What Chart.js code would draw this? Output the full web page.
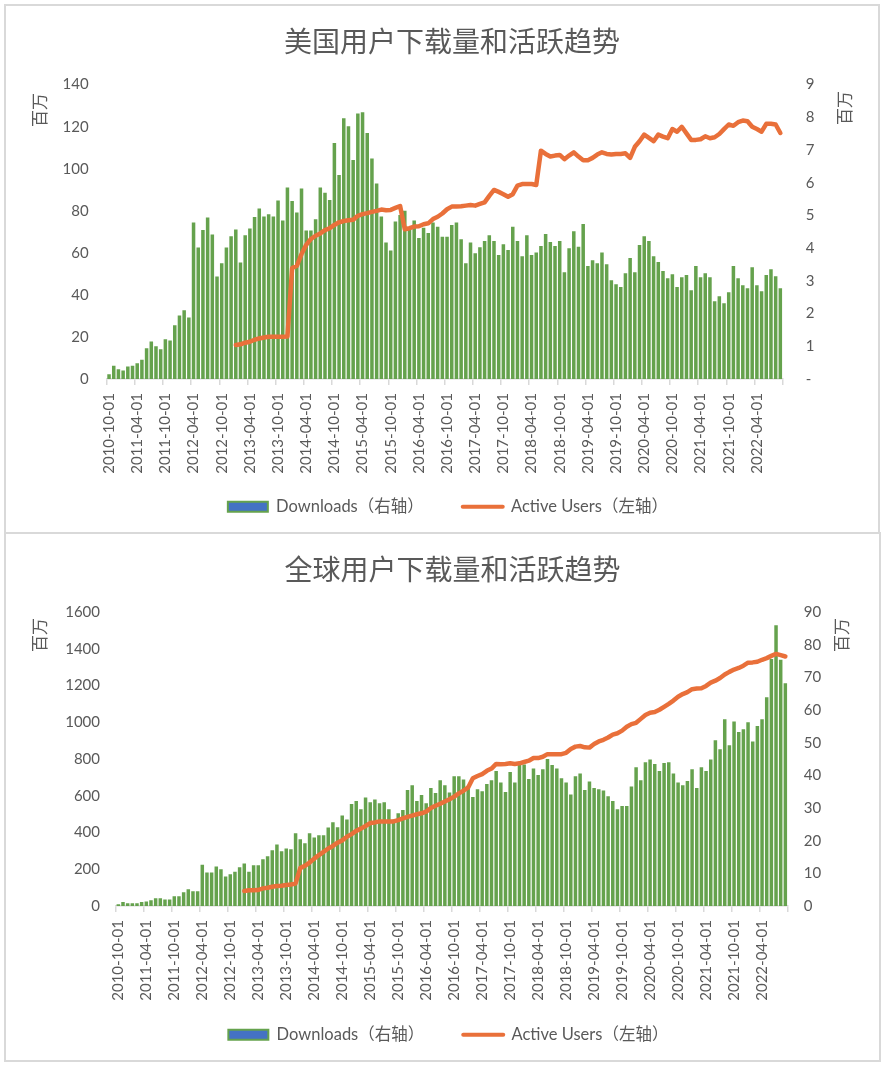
<!DOCTYPE html>
<html>
<head>
<meta charset="utf-8">
<script src="https://cdn.jsdelivr.net/npm/chart.js@4.4.1/dist/chart.umd.min.js"></script>
<style>
  html, body { margin: 0; padding: 0; background: #fff; }
  .box { position: absolute; left: 4px; border: 2px solid #d9d9d9; background: #fff; }
  #box1 { top: 4px; width: 872px; height: 526px; }
  #box2 { top: 532px; width: 873px; height: 526px; }
  canvas { display: block; }
</style>
</head>
<body>
<div class="box" id="box1"><canvas id="usChart" width="872" height="526"></canvas></div>
<div class="box" id="box2"><canvas id="globalChart" width="873" height="526"></canvas></div>
<script>
// monthly categories, 2010-10-01 .. 2022-09-01
function monthLabels(year, month, count) {
  const out = [];
  for (let i = 0; i < count; i++) {
    const m = month - 1 + i;
    const y = year + Math.floor(m / 12);
    const mm = (m % 12) + 1;
    out.push(y + '-' + String(mm).padStart(2, '0') + '-01');
  }
  return out;
}
const months = monthLabels(2010, 10, 144);

// 美国 (millions)
const usDownloads = [
  2.2, 6.3, 4.6, 4.0, 6.0, 6.3, 7.5, 9.2, 14.6, 17.8, 15.6, 14.1,
  18.9, 18.3, 25.6, 30.2, 32.7, 29.2, 74.4, 62.5, 70.8, 76.8, 68.7, 48.7,
  55.1, 62.5, 67.9, 71.1, 55.4, 68.3, 71.6, 77.0, 81.1, 77.3, 78.3, 77.3,
  84.9, 75.4, 91.1, 84.6, 79.2, 90.6, 70.6, 70.6, 76.0, 91.1, 88.6, 85.1,
  112.2, 97.0, 124.0, 120.2, 104.1, 126.3, 126.8, 117.0, 104.9, 93.0, 77.3, 64.9,
  61.1, 74.9, 78.0, 80.0, 71.3, 75.4, 67.0, 71.9, 69.4, 74.4, 72.4, 67.6,
  67.6, 73.2, 74.4, 66.5, 55.1, 64.9, 59.8, 62.7, 65.6, 68.4, 65.6, 59.0,
  64.1, 61.3, 72.4, 65.6, 58.4, 68.4, 59.0, 60.2, 63.3, 68.9, 65.1, 63.2,
  65.6, 50.8, 62.2, 70.3, 62.9, 73.7, 53.7, 56.5, 55.1, 60.2, 54.6, 47.0,
  45.1, 43.7, 50.3, 57.5, 50.8, 63.7, 67.9, 65.6, 58.4, 55.6, 51.3, 47.9,
  49.8, 43.7, 48.4, 49.4, 42.2, 53.7, 48.4, 50.3, 48.4, 37.0, 39.4, 36.0,
  41.3, 53.7, 47.9, 44.6, 43.2, 53.2, 44.6, 41.7, 49.4, 52.2, 48.9, 43.2
];
const usActive = [
  null, null, null, null, null, null, null, null, null, null, null, null,
  null, null, null, null, null, null, null, null, null, null, null, null,
  null, null, null, 1.04, 1.06, 1.11, 1.14, 1.20, 1.24, 1.27, 1.29, 1.29,
  1.29, 1.29, 1.30, 3.39, 3.46, 3.82, 4.10, 4.28, 4.38, 4.45, 4.55, 4.61,
  4.71, 4.79, 4.83, 4.85, 4.87, 4.99, 5.04, 5.07, 5.11, 5.14, 5.18, 5.16,
  5.17, 5.23, 5.29, 4.58, 4.61, 4.66, 4.67, 4.73, 4.76, 4.89, 4.96, 5.06,
  5.19, 5.27, 5.27, 5.28, 5.30, 5.32, 5.30, 5.35, 5.40, 5.60, 5.78, 5.72,
  5.65, 5.57, 5.65, 5.91, 5.96, 5.96, 5.96, 5.93, 6.98, 6.88, 6.80, 6.83,
  6.85, 6.72, 6.83, 6.93, 6.80, 6.69, 6.69, 6.76, 6.86, 6.93, 6.88, 6.86,
  6.88, 6.88, 6.90, 6.76, 7.10, 7.27, 7.47, 7.37, 7.27, 7.47, 7.41, 7.36,
  7.64, 7.56, 7.71, 7.51, 7.31, 7.31, 7.33, 7.42, 7.36, 7.39, 7.49, 7.64,
  7.78, 7.74, 7.85, 7.90, 7.88, 7.71, 7.64, 7.56, 7.80, 7.80, 7.78, 7.52
];

// 全球 (millions)
const globalDownloads = [
  9, 22, 15, 15, 15, 22, 25, 31, 42, 42, 36, 36,
  53, 53, 75, 91, 80, 80, 225, 182, 182, 215, 200, 160,
  173, 187, 211, 231, 187, 222, 222, 255, 271, 304, 335, 298,
  313, 309, 396, 364, 342, 396, 373, 385, 385, 427, 456, 429,
  493, 471, 555, 571, 527, 591, 565, 580, 560, 565, 527, 469,
  505, 522, 631, 658, 571, 604, 560, 642, 615, 685, 658, 618,
  707, 707, 689, 655, 593, 635, 625, 664, 685, 735, 673, 620,
  729, 673, 771, 771, 691, 749, 713, 745, 800, 767, 749, 696,
  673, 607, 707, 722, 631, 678, 642, 635, 629, 598, 571, 527,
  544, 544, 651, 755, 685, 782, 798, 773, 735, 778, 782, 722,
  673, 658, 680, 744, 642, 755, 735, 798, 902, 853, 1016, 875,
  1005, 947, 962, 1000, 896, 980, 1016, 1136, 1345, 1529, 1340, 1213
];
const globalActive = [
  null, null, null, null, null, null, null, null, null, null, null, null,
  null, null, null, null, null, null, null, null, null, null, null, null,
  null, null, null, 4.6, 4.8, 4.8, 4.9, 5.4, 5.6, 5.9, 6.1, 6.2,
  6.4, 6.6, 6.9, 11.6, 12.3, 13.3, 14.5, 15.6, 16.6, 17.6, 18.4, 19.4,
  20.1, 21.2, 22.0, 23.0, 23.7, 24.5, 25.4, 25.6, 25.9, 25.9, 25.9, 25.9,
  26.3, 26.8, 27.3, 27.7, 28.1, 28.4, 28.9, 30.0, 30.7, 31.3, 32.0, 32.7,
  33.5, 34.5, 35.3, 36.3, 39.1, 39.8, 40.4, 41.4, 42.1, 43.5, 43.4, 43.5,
  43.7, 43.5, 43.7, 44.1, 44.5, 45.3, 45.3, 45.7, 46.5, 46.5, 46.5, 46.5,
  46.9, 48.1, 48.8, 49.0, 48.6, 48.5, 49.6, 50.4, 50.9, 51.6, 52.5, 52.9,
  53.7, 54.9, 55.7, 56.1, 57.3, 58.5, 59.2, 59.4, 60.1, 61.0, 61.9, 62.9,
  64.1, 64.9, 65.5, 66.4, 66.6, 66.7, 67.4, 68.4, 69.0, 69.8, 70.9, 71.7,
  72.4, 72.9, 73.6, 74.5, 74.6, 74.8, 75.4, 75.9, 76.6, 77.2, 76.8, 76.4
];

// axis tick values
const usLeftTicks = [0, 20, 40, 60, 80, 100, 120, 140];
const usRightTicks = [0, 1, 2, 3, 4, 5, 6, 7, 8, 9];
const globalLeftTicks = [0, 200, 400, 600, 800, 1000, 1200, 1400, 1600];
const globalRightTicks = [0, 10, 20, 30, 40, 50, 60, 70, 80, 90];

const GREEN = '#65a24d';
const ORANGE = '#e9703a';
const BLUE = '#4472c4';
const TEXT = '#595959';
const AXIS = '#d9d9d9';
const FONT = 'Lato, "Noto Sans CJK SC", sans-serif';
const CJK = '"Noto Sans CJK SC", sans-serif';

// axis unit labels (百万) rotated on both sides
const unitTitles = {
  id: 'unitTitles',
  afterDraw(chart, args, opts) {
    const ctx = chart.ctx;
    ctx.save();
    ctx.fillStyle = TEXT;
    ctx.font = '17px ' + CJK;
    ctx.textAlign = 'right';
    ctx.textBaseline = 'middle';
    opts.spots.forEach(([x, top]) => {
      ctx.save();
      ctx.translate(x, top);
      ctx.rotate(-Math.PI / 2);
      ctx.fillText(opts.text, 0, 0);
      ctx.restore();
    });
    ctx.restore();
  }
};

function legendItems() {
  return [
    { text: 'Downloads（右轴）\u3000\u3000 ', fillStyle: BLUE, strokeStyle: GREEN,
      lineWidth: 2, pointStyle: 'rect', datasetIndex: 0, hidden: false, fontColor: TEXT },
    { text: 'Active Users（左轴）\u3000', fillStyle: ORANGE, strokeStyle: ORANGE,
      lineWidth: 4, lineCap: 'round', pointStyle: 'line', datasetIndex: 1, hidden: false, fontColor: TEXT }
  ];
}

function tickRange(t) {
  return { min: t[0], max: t[t.length - 1], stepSize: t[1] - t[0] };
}

function makeChart(id, o) {
  const left = tickRange(o.leftTicks);
  const right = tickRange(o.rightTicks);
  return new Chart(document.getElementById(id), {
    type: 'bar',
    data: {
      labels: months,
      datasets: [
        {
          type: 'bar', label: 'Downloads（右轴）', data: o.bars, yAxisID: 'y',
          backgroundColor: GREEN, barPercentage: 0.75, categoryPercentage: 1, order: 1
        },
        {
          type: 'line', label: 'Active Users（左轴）', data: o.line, yAxisID: 'y1',
          borderColor: ORANGE, backgroundColor: ORANGE, borderWidth: 4.5,
          borderCapStyle: 'round', borderJoinStyle: 'round',
          pointRadius: 0, tension: 0, order: 0
        }
      ]
    },
    options: {
      responsive: false,
      animation: false,
      layout: { padding: { left: 20, right: 0, top: 10, bottom: o.padBottom } },
      scales: {
        x: {
          grid: {
            display: true, drawOnChartArea: false, drawTicks: true, tickLength: 6, lineWidth: 1.5,
            color: c => (c.index === undefined || c.index % 6 === 0) ? AXIS : 'rgba(0,0,0,0)'
          },
          border: { display: true, color: AXIS, width: 1.5 },
          ticks: {
            autoSkip: false, maxRotation: 90, minRotation: 90, padding: 8,
            color: TEXT, font: { size: 15, family: FONT },
            callback: function (v, i) { return i % 6 === 0 ? this.getLabelForValue(v) : ''; }
          },
          afterFit: s => { s.height = o.xHeight; }
        },
        y: {
          position: 'left', min: left.min, max: left.max,
          grid: { display: false, drawTicks: false },
          border: { display: false },
          ticks: {
            stepSize: left.stepSize, padding: o.leftPad, color: TEXT, font: { size: 15, family: FONT },
            callback: v => String(v)
          },
          afterFit: s => { s.width = o.leftWidth; }
        },
        y1: {
          position: 'right', min: right.min, max: right.max,
          grid: { display: false, drawTicks: false },
          border: { display: false },
          ticks: {
            stepSize: right.stepSize, padding: o.rightPad, color: TEXT, font: { size: 15, family: FONT },
            callback: v => (o.dashZero && v === 0) ? '-' : String(v)
          },
          afterFit: s => { s.width = o.rightWidth; }
        }
      },
      plugins: {
        title: {
          display: true, text: o.title, color: TEXT,
          font: { size: 28, family: CJK, weight: 'normal' },
          padding: { top: 9, bottom: o.titleGap }
        },
        legend: {
          position: 'bottom',
          labels: {
            usePointStyle: true, pointStyleWidth: 40, boxHeight: 10, padding: 10,
            color: TEXT, font: { size: 16.5, family: FONT },
            generateLabels: legendItems
          }
        },
        tooltip: { enabled: false },
        unitTitles: { text: '百万', spots: o.unitSpots }
      }
    },
    plugins: [unitTitles]
  });
}

makeChart('usChart', {
  title: '美国用户下载量和活跃趋势',
  bars: usDownloads, line: usActive,
  leftTicks: usLeftTicks, rightTicks: usRightTicks, dashZero: true,
  leftWidth: 80.7, leftPad: 18, rightWidth: 95.3, rightPad: 23,
  titleGap: 26, xHeight: 109.5, padBottom: 7,
  unitSpots: [[34, 87], [839, 85]]
});

makeChart('globalChart', {
  title: '全球用户下载量和活跃趋势',
  bars: globalDownloads, line: globalActive,
  leftTicks: globalLeftTicks, rightTicks: globalRightTicks, dashZero: false,
  leftWidth: 90, leftPad: 16, rightWidth: 91.3, rightPad: 16,
  titleGap: 25.5, xHeight: 110.5, padBottom: 7,
  unitSpots: [[34, 84], [836, 84]]
});
</script>
</body>
</html>
